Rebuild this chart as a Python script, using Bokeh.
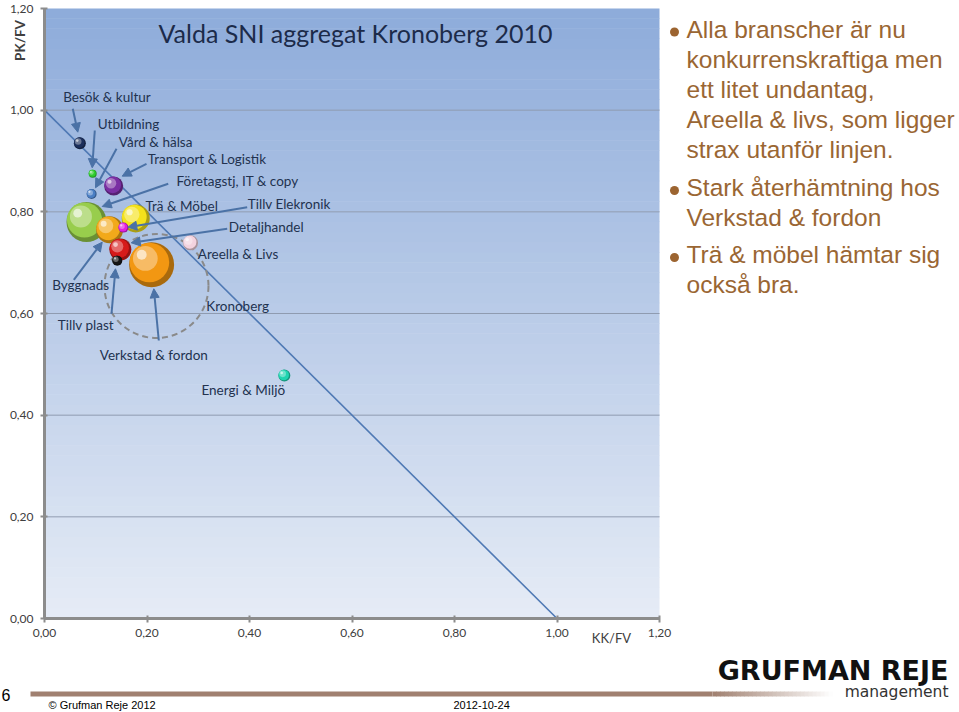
from math import pi

from bokeh.plotting import figure
from bokeh.models import (ColumnDataSource, Range1d, FixedTicker, CustomJSTickFormatter,
                          Label, Arrow, NormalHead, LinearAxis)
from bokeh.embed import file_html
from bokeh.resources import INLINE
from bokeh.core.properties import value

# ---------------- data ----------------
sectors = ["Besök & kultur", "Utbildning", "Vård & hälsa", "Transport & Logistik",
           "Företagstj, IT & copy", "Trä & Möbel", "Byggnads", "Tillv Elekronik",
           "Detaljhandel", "Tillv plast", "Verkstad & fordon", "Areella & Livs",
           "Energi & Miljö"]
kk_fv = [0.069, 0.094, 0.092, 0.135, 0.082, 0.178, 0.127, 0.154, 0.148, 0.142, 0.209, 0.285, 0.468]
pk_fv = [0.935, 0.875, 0.835, 0.851, 0.780, 0.787, 0.765, 0.769, 0.726, 0.704, 0.696, 0.739, 0.478]
bubble_size = [12, 8, 10, 19, 40, 28, 27, 10, 22, 10, 45, 15, 12]
bubble_color = ["#1b2f5c", "#2ecc2e", "#4a7ec4", "#7a2fa3", "#98cd4c", "#f4e21c", "#f2a91a",
                "#e21fe0", "#d61a1a", "#151515", "#f29712", "#f3d3df", "#1fd4b0"]

kronoberg_kk = 0.2185
kronoberg_pk = 0.654

limit_kk = [0.0, 1.0]
limit_pk = [1.0, 0.0]

axis_ticks = [0.0, 0.2, 0.4, 0.6, 0.8, 1.0, 1.2]

chart_title = "Valda SNI aggregat Kronoberg 2010"
x_title = "KK/FV"
y_title = "PK/FV"

bullet_points = [
    ["Alla branscher är nu", "konkurrenskraftiga men", "ett litet undantag,",
     "Areella & livs, som ligger", "strax utanför linjen."],
    ["Stark återhämtning hos", "Verkstad & fordon"],
    ["Trä & möbel hämtar sig", "också bra."],
]

# ---------------- page geometry ----------------
W, H = 959, 712
FL, FT, FR, FB = 44, 8, 659, 618          # chart area edges in page px
PXX = (FR - FL) / 1.2                      # px per unit
PXY = (FB - FT) / 1.2


def ux(cx):  # page px -> chart units (x)
    return (cx - FL) / PXX


def uy(cy):  # page px -> chart units (y)
    return (FB - cy) / PXY


def mix(c, t, k):
    c = c.lstrip("#"); t = t.lstrip("#")
    a = [int(c[i:i + 2], 16) for i in (0, 2, 4)]
    b = [int(t[i:i + 2], 16) for i in (0, 2, 4)]
    return "#%02x%02x%02x" % tuple(round(a[i] + (b[i] - a[i]) * k) for i in range(3))


p = figure(width=W, height=H, output_backend="svg", toolbar_location=None,
           x_range=Range1d(ux(0), ux(W)), y_range=Range1d(uy(H), uy(0)),
           x_axis_type=None, y_axis_type=None,
           min_border=0, min_border_left=0, min_border_right=0,
           min_border_top=0, min_border_bottom=0)
p.outline_line_color = None
p.border_fill_color = "white"
p.background_fill_color = "white"

# gradient backdrop of the chart area
n = 60
bot = [1.2 * i / n for i in range(n)]
top = [min(1.2 * (i + 1) / n + 0.001, 1.2) for i in range(n)]
gcol = [mix("#e6ecf6", "#8dabda", (i + 0.5) / n) for i in range(n)]
p.quad(left=0, right=1.2, bottom=bot, top=top, fill_color=gcol, line_color=None)

# horizontal grid lines at the axis ticks
gt = [t for t in axis_ticks if 0 < t < 1.2]
p.segment(x0=0, x1=1.2, y0=gt, y1=gt, line_color="#8f9bb0", line_width=1)

# axes (fixed at 0)
xa = LinearAxis(fixed_location=0)
ya = LinearAxis(fixed_location=0)
for ax in (xa, ya):
    ax.bounds = (0, 1.2)
    ax.ticker = FixedTicker(ticks=axis_ticks)
    ax.formatter = CustomJSTickFormatter(code="return tick.toFixed(2).replace('.', ',');")
    ax.axis_line_color = "#8c8c8c"
    ax.axis_line_width = 3
    ax.major_tick_line_color = "#8c8c8c"
    ax.major_tick_line_width = 2
    ax.major_tick_in = 3
    ax.major_tick_out = 4
    ax.minor_tick_line_color = None
    ax.major_label_text_font = "Lato"
    ax.major_label_text_font_size = "12px"
    ax.major_label_text_color = "#404040"
ya.major_label_standoff = 7
xa.major_label_standoff = 6
p.add_layout(xa, "below")
p.add_layout(ya, "left")

# limit line
p.line(limit_kk, limit_pk, line_color="#4f79b4", line_width=1.6)

# Kronoberg dashed ring
p.scatter([kronoberg_kk], [kronoberg_pk], size=104, fill_color=None, line_color="#8a8a8a",
          line_width=2, line_dash="6 4")

# spheres (layered circles for a shaded look)
sx, sy, ss, sc = [], [], [], []
layers = [(0.0, 1.0, "#000000", 0.30), (0.05, 0.88, None, 0.0),
          (0.14, 0.55, "#ffffff", 0.35), (0.22, 0.22, "#ffffff", 0.75)]
for x, y, d, c in zip(kk_fv, pk_fv, bubble_size, bubble_color):
    for off, f, tgt, k in layers:
        sx.append(x - off * d / PXX)
        sy.append(y + off * d / PXY)
        ss.append(d * f)
        sc.append(c if tgt is None else mix(c, tgt, k))
p.scatter(x=sx, y=sy, size=ss, fill_color=sc, line_color=None)

# sector labels
lab_x = [0.0365, 0.104, 0.145, 0.2016, 0.2576, 0.197, 0.015, 0.3967, 0.3596, 0.026, 0.1079, 0.2991, 0.3063]
lab_y = [1.0256, 0.973, 0.937, 0.9036, 0.8603, 0.812, 0.657, 0.8158, 0.7698, 0.5778, 0.5188, 0.7161, 0.4486]
p.text(x=lab_x + [0.3155], y=lab_y + [0.6138], text=sectors + ["Kronoberg"],
       text_font=value("Lato"), text_font_size="13.5px", text_color="#22324f",
       text_align="left", text_baseline="middle")

# arrows
arr = ColumnDataSource(dict(
    x0=[0.0552, 0.0981, 0.1405, 0.199, 0.2414, 0.3955, 0.3565, 0.0572, 0.1307, 0.223],
    y0=[1.0028, 0.960, 0.9241, 0.8945, 0.8552, 0.8092, 0.7667, 0.6663, 0.5994, 0.5469],
    x1=[0.065, 0.0931, 0.0995, 0.1516, 0.1126, 0.1625, 0.1692, 0.1126, 0.1385, 0.2133],
    y1=[0.9567, 0.8867, 0.8473, 0.8702, 0.8105, 0.7698, 0.7391, 0.7403, 0.688, 0.6486]))
ac = "#4b72a6"
p.add_layout(Arrow(end=NormalHead(size=9, fill_color=ac, line_color=ac), source=arr,
                   x_start="x0", y_start="y0", x_end="x1", y_end="y1",
                   line_color=ac, line_width=2))

# titles
p.add_layout(Label(x=ux(355), y=uy(32), text=chart_title,
                   text_font="Lato", text_font_size="25px", text_color="#1c2b4a",
                   text_align="center", text_baseline="middle"))
p.add_layout(Label(x=ux(19), y=uy(40), text=y_title,
                   angle=pi / 2, text_font="Lato", text_font_style="bold", text_font_size="13.5px",
                   text_color="#404040", text_align="center", text_baseline="middle"))
p.add_layout(Label(x=ux(611), y=uy(637), text=x_title,
                   text_font="Lato", text_font_size="13px", text_color="#404040",
                   text_align="center", text_baseline="middle"))

# right-hand bullet text (y = visual centre of capitals)
brown = "#9a6633"
centres = [[28.5, 58.5, 88.5, 118.5, 148.5], [187, 216.5], [254, 284]]
bx, by, tx, ty, tt = [], [], [], [], []
for para, cys in zip(bullet_points, centres):
    bx.append(ux(674)); by.append(uy(cys[0] + 3))
    for line, cy in zip(para, cys):
        tx.append(ux(686)); ty.append(uy(cy)); tt.append(line)
p.scatter(x=bx, y=by, size=9, fill_color="#9c6430", line_color=None)
p.text(x=tx, y=ty, text=tt, text_font=value("Liberation Sans"), text_font_size="24.5px",
       text_color=brown, text_align="left", text_baseline="middle")

# ---------------- footer ----------------
bar = "#a08070"
p.quad(left=ux(30), right=ux(712), bottom=uy(696), top=uy(691), fill_color=bar, line_color=None)
m = 30
fl = [ux(712 + 120 * i / m) for i in range(m)]
fr = [ux(712 + 120 * (i + 1) / m + 0.5) for i in range(m)]
p.quad(left=fl, right=fr, bottom=uy(696), top=uy(691),
       fill_color=[mix(bar, "#ffffff", (i + 0.5) / m) for i in range(m)], line_color=None)

p.text(x=[ux(1)], y=[uy(694)], text=["6"], text_font=value("Liberation Sans"),
       text_font_size="16px", text_color="black", text_baseline="middle")
p.text(x=[ux(48), ux(453)], y=[uy(704.5), uy(704.5)], text=["© Grufman Reje 2012", "2012-10-24"],
       text_font=value("Liberation Sans"), text_font_size="11px", text_color="black",
       text_baseline="middle")
p.text(x=[ux(948)], y=[uy(670)], text=["GRUFMAN REJE"], text_font=value("DejaVu Sans"),
       text_font_style="bold", text_font_size="27px", text_color="#111111",
       text_align="right", text_baseline="middle")
p.text(x=[ux(948)], y=[uy(691)], text=["management"], text_font=value("DejaVu Sans"),
       text_font_size="15.5px", text_color="#333333",
       text_align="right", text_baseline="middle")

open("out.html", "w").write(file_html(p, INLINE))
